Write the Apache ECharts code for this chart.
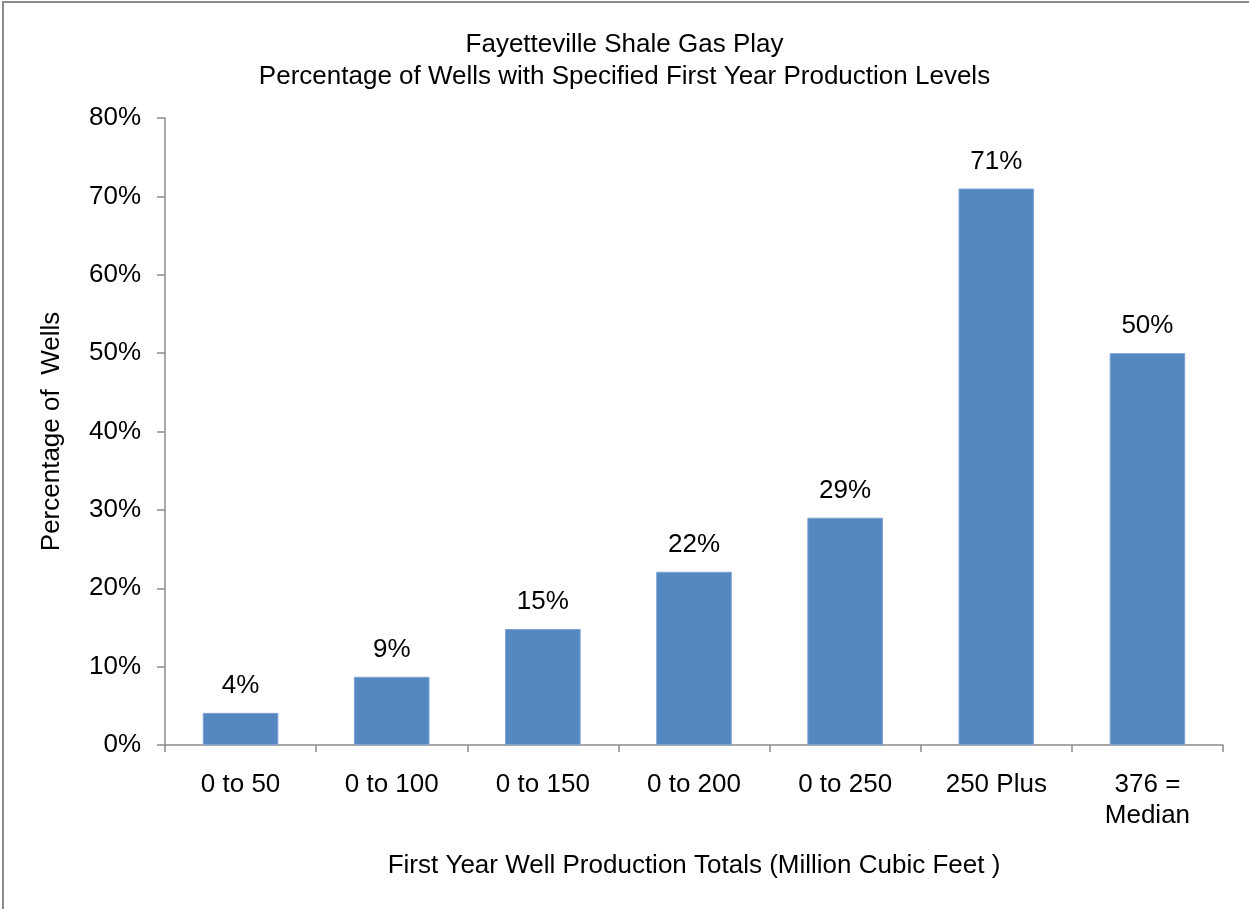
<!DOCTYPE html>
<html>
<head>
<meta charset="utf-8">
<script src="https://cdn.jsdelivr.net/npm/echarts@6/dist/echarts.min.js"></script>
<style>
html,body{margin:0;padding:0;background:#fff;}
#frame{position:absolute;left:2px;top:1px;width:1247px;height:908px;border-top:2px solid #8c8c8c;border-left:2px solid #8c8c8c;box-sizing:border-box;}
#chart{position:absolute;left:0;top:0;width:1249px;height:909px;}
</style>
</head>
<body>
<div id="chart"></div>
<div id="frame"></div>
<script>
const categories = ['0 to 50', '0 to 100', '0 to 150', '0 to 200', '0 to 250', '250 Plus', '376 =\nMedian'];
const values = [4.1, 8.7, 14.8, 22.1, 29.0, 71.0, 50.0];
const yTicks = [0, 10, 20, 30, 40, 50, 60, 70, 80];
const titleLines = ['Fayetteville Shale Gas Play', 'Percentage of Wells with Specified First Year Production Levels'];
const xName = 'First Year Well Production Totals (Million Cubic Feet )';
const yName = 'Percentage of  Wells';

const font = 'Liberation Sans, Arial, sans-serif';
const fs = 26;
const chart = echarts.init(document.getElementById('chart'), null, {renderer: 'canvas'});
chart.setOption({
  animation: false,
  backgroundColor: '#fff',
  title: {
    text: titleLines.join('\n'),
    left: 'center',
    top: 24,
    textStyle: {fontFamily: font, fontSize: fs, fontWeight: 'normal', color: '#000', lineHeight: 32}
  },
  grid: {left: 165, right: 26, top: 118, bottom: 164, containLabel: false},
  xAxis: {
    type: 'category',
    data: categories,
    name: xName,
    nameLocation: 'middle',
    nameGap: 108,
    nameTextStyle: {fontFamily: font, fontSize: fs, color: '#000'},
    axisLine: {lineStyle: {color: '#8c8c8c', width: 1.5}},
    axisTick: {show: true, alignWithLabel: false, length: 7, lineStyle: {color: '#8c8c8c', width: 1.5}},
    axisLabel: {fontFamily: font, fontSize: fs, color: '#000', margin: 24, lineHeight: 31}
  },
  yAxis: {
    type: 'value',
    min: yTicks[0],
    max: yTicks[yTicks.length - 1],
    interval: 10,
    name: yName,
    nameLocation: 'middle',
    nameGap: 100,
    nameTextStyle: {fontFamily: font, fontSize: fs, color: '#000'},
    axisLine: {show: true, lineStyle: {color: '#8c8c8c', width: 1.5}},
    axisTick: {show: true, inside: false, length: 8, lineStyle: {color: '#8c8c8c', width: 1.5}},
    splitLine: {show: false},
    axisLabel: {fontFamily: font, fontSize: fs, color: '#000', margin: 24, formatter: v => v + '%'}
  },
  series: [{
    type: 'bar',
    data: values,
    barWidth: '50%',
    itemStyle: {color: '#5587c1', borderColor: '#7da3d4', borderWidth: 1},
    label: {
      show: true,
      position: 'top',
      distance: 14,
      fontFamily: font,
      fontSize: fs,
      color: '#000',
      formatter: p => Math.round(p.value) + '%'
    }
  }]
});
</script>
</body>
</html>
